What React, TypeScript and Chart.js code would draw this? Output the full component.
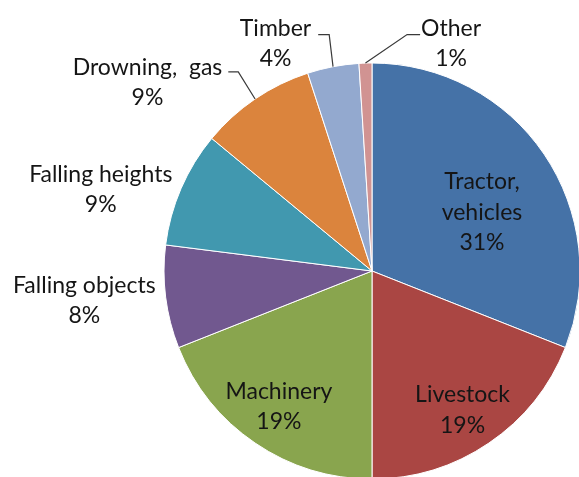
import React, { useEffect, useRef } from "react";
import { Chart, registerables } from "chart.js";

Chart.register(...registerables);

const categories = [
  "Tractor,\nvehicles",
  "Livestock",
  "Machinery",
  "Falling objects",
  "Falling heights",
  "Drowning,  gas",
  "Timber",
  "Other",
];
const values = [31, 19, 19, 8, 9, 9, 4, 1];
const colors = [
  "#4572A7",
  "#AA4643",
  "#89A54E",
  "#71588F",
  "#4198AF",
  "#DB843D",
  "#93A9CF",
  "#D19392",
];

// label placement: angle delta (deg) from slice mid-angle, distance as fraction of radius
const labelPlace = [
  { dAng: 5.8, f: 0.601 },
  { dAng: 1.0, f: 0.795 },
  { dAng: 0.4, f: 0.788 },
  { dAng: 1.5, f: 1.39 },
  { dAng: -6.5, f: 1.363 },
  { dAng: -15.7, f: 1.411 },
  { dAng: -12.1, f: 1.192 },
  { dAng: 20.9, f: 1.162 },
];
const leaders: Record<number, { side: "left" | "right"; gap: number; hlen: number; yOff: number }> = {
  5: { side: "right", gap: 6, hlen: 10, yOff: -3 },
  6: { side: "right", gap: 7, hlen: 11, yOff: -1 },
  7: { side: "left", gap: 1, hlen: 13, yOff: -1 },
};

const FONT = "23px Lato";
const LINE_H = 30.5;
const CAP_H = 16.4;

const labelPlugin = {
  id: "pieLabels",
  afterDatasetsDraw(chart: any) {
    const ctx = chart.ctx as CanvasRenderingContext2D;
    const meta = chart.getDatasetMeta(0);
    const total = values.reduce((a, b) => a + b, 0);
    ctx.save();
    ctx.font = FONT;
    ctx.textAlign = "center";
    ctx.textBaseline = "alphabetic";
    meta.data.forEach((arc: any, i: number) => {
      const { x, y, startAngle, endAngle, outerRadius } = arc.getProps(
        ["x", "y", "startAngle", "endAngle", "outerRadius"],
        true
      );
      const mid = (startAngle + endAngle) / 2;
      const p = labelPlace[i];
      const a = mid + (p.dAng * Math.PI) / 180;
      const ax = x + Math.cos(a) * outerRadius * p.f;
      const ay = y + Math.sin(a) * outerRadius * p.f;
      const lines = categories[i].split("\n");
      lines.push(Math.round((values[i] / total) * 100) + "%");
      const n = lines.length;
      ctx.fillStyle = "#151515";
      lines.forEach((ln, k) => {
        const by = ay + (k - (n - 1) / 2) * LINE_H + CAP_H / 2;
        ctx.fillText(ln, ax, by);
      });
      const L = leaders[i];
      if (L) {
        const w = ctx.measureText(lines[0]).width;
        const b1 = ay + (0 - (n - 1) / 2) * LINE_H + CAP_H / 2;
        const ly = b1 + L.yOff;
        const sx = L.side === "right" ? ax + w / 2 + L.gap : ax - w / 2 - L.gap;
        const ex = L.side === "right" ? sx + L.hlen : sx - L.hlen;
        const px = x + Math.cos(mid) * outerRadius;
        const py = y + Math.sin(mid) * outerRadius;
        ctx.strokeStyle = "#3a3a3a";
        ctx.lineWidth = 1.2;
        ctx.beginPath();
        ctx.moveTo(sx, ly);
        ctx.lineTo(ex, ly);
        ctx.lineTo(px, py);
        ctx.stroke();
      }
    });
    ctx.restore();
  },
};

export default function App() {
  const ref = useRef<HTMLCanvasElement | null>(null);
  useEffect(() => {
    if (!ref.current) return;
    const chart = new Chart(ref.current, {
      type: "pie",
      data: {
        labels: categories.map((c) => c.replace("\n", " ")),
        datasets: [
          {
            data: values,
            backgroundColor: colors,
            borderColor: "#ffffff",
            borderWidth: 1,
          },
        ],
      },
      options: {
        responsive: false,
        animation: false,
        radius: 208,
        layout: { padding: { left: 165, top: 65, right: 0, bottom: 0 } },
        plugins: {
          legend: { display: false },
          tooltip: { enabled: false },
        },
      } as any,
      plugins: [labelPlugin],
    });
    return () => chart.destroy();
  }, []);
  return (
    <div style={{ position: "absolute", left: 0, top: 0, width: 579, height: 477, background: "#fff", overflow: "hidden" }}>
      <canvas ref={ref} width={579} height={477} />
    </div>
  );
}
